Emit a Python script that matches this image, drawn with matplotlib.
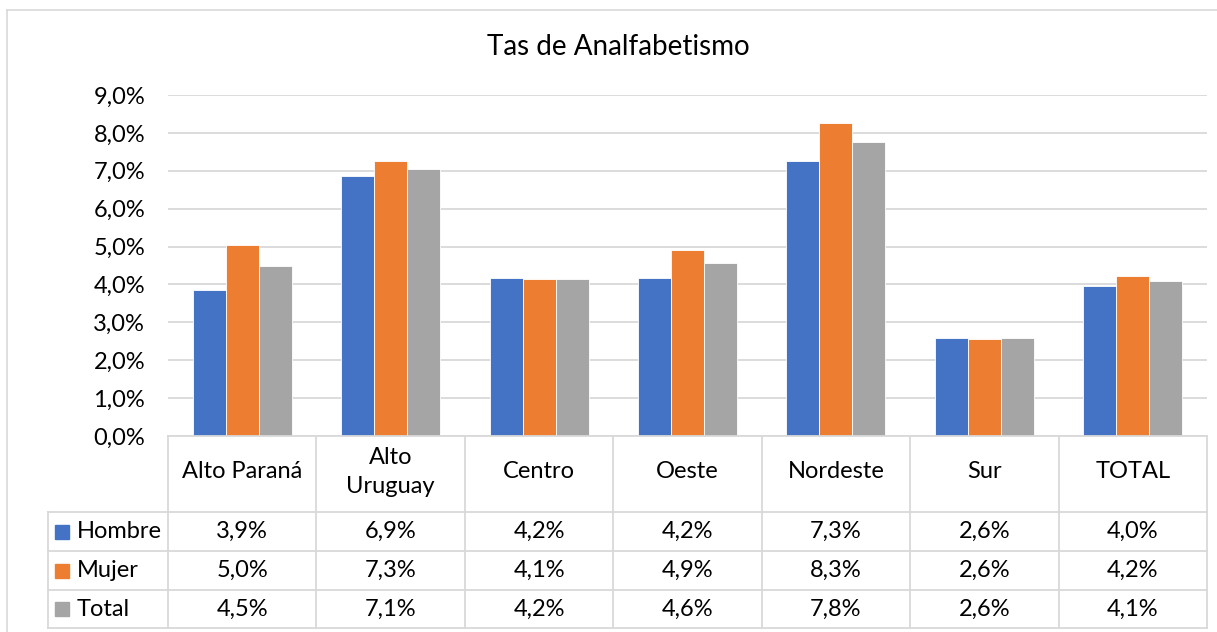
import matplotlib
matplotlib.use("Agg")
import matplotlib.pyplot as plt
from matplotlib.lines import Line2D
from matplotlib.patches import Rectangle

categories = ["Alto Paraná", "Alto\nUruguay", "Centro", "Oeste", "Nordeste", "Sur", "TOTAL"]
series_names = ["Hombre", "Mujer", "Total"]
hombre = [3.86, 6.87, 4.16, 4.16, 7.26, 2.59, 3.96]
mujer = [5.03, 7.26, 4.14, 4.91, 8.27, 2.56, 4.22]
total = [4.49, 7.06, 4.15, 4.56, 7.75, 2.59, 4.09]
series = [hombre, mujer, total]
colors = ["#4472C4", "#ED7D31", "#A5A5A5"]
yticks = [0, 1, 2, 3, 4, 5, 6, 7, 8, 9]
title = "Tas de Analfabetismo"

W, H = 1217, 632
plt.rcParams['font.family'] = ['Lato', 'DejaVu Sans']
fig = plt.figure(figsize=(W / 100, H / 100), dpi=100)

def fx(x):
    return x / W

def fy(y):
    return 1 - y / H

FS = 17
left, right, top, bottom = 168, 1207, 95, 436
ax = fig.add_axes([fx(left), fy(bottom), fx(right - left), (bottom - top) / H])
n = len(categories)
bw = (1 / 1.5) / 3
for i, (vals, c) in enumerate(zip(series, colors)):
    xs = [k + (i - 1) * bw for k in range(n)]
    ax.bar(xs, vals, width=bw, color=c, edgecolor="white", linewidth=0.6, zorder=3)
ax.set_xlim(-0.5, n - 0.5)
ax.set_ylim(0, 9)
ax.set_yticks(yticks)
ax.set_yticklabels([f"{v:.1f}%".replace(".", ",") for v in yticks], fontsize=FS)
ax.tick_params(axis="y", length=0, pad=16.5)
ax.set_xticks([])
ax.grid(axis="y", color="#D9D9D9", linewidth=1.3, zorder=0)
for s in ax.spines.values():
    s.set_visible(False)

# chart frame
fig.add_artist(Line2D([fx(7), fx(W + 5)], [fy(10), fy(10)], color="#D9D9D9", lw=1.2, transform=fig.transFigure))
fig.add_artist(Line2D([fx(7), fx(7)], [fy(10), fy(H + 5)], color="#D9D9D9", lw=1.2, transform=fig.transFigure))

fig.text(fx(618), fy(47), title, ha="center", va="center", fontsize=20)

# data table
lc = "#D9D9D9"
rows_y = [436, 512, 551, 590, 628]
colw = (right - left) / n
col_x = [left + k * colw for k in range(n + 1)]
def hline(y, x0, x1):
    fig.add_artist(Line2D([fx(x0), fx(x1)], [fy(y), fy(y)], color=lc, lw=1.3, transform=fig.transFigure))
def vline(x, y0, y1):
    fig.add_artist(Line2D([fx(x), fx(x)], [fy(y0), fy(y1)], color=lc, lw=1.3, transform=fig.transFigure))

hline(436, left, right)
for y in rows_y[1:]:
    hline(y, 48, right)
for x in col_x:
    vline(x, 436, 628)
vline(48, 512, 628)

for k, cat in enumerate(categories):
    cx = col_x[k] + colw / 2
    fig.text(fx(cx), fy(472), cat, ha="center", va="center", fontsize=FS, linespacing=1.45)
for r, (name, vals, c) in enumerate(zip(series_names, series, colors)):
    cy = (rows_y[r + 1] + rows_y[r + 2]) / 2
    fig.add_artist(Rectangle((fx(55), fy(cy + 7)), 14 / W, 14 / H, color=c, transform=fig.transFigure))
    fig.text(fx(77), fy(cy), name, ha="left", va="center", fontsize=FS)
    for k, v in enumerate(vals):
        cx = col_x[k] + colw / 2
        fig.text(fx(cx), fy(cy), f"{round(v, 1):.1f}%".replace(".", ","), ha="center", va="center", fontsize=FS)

fig.savefig("out.png", dpi=100, facecolor="white")
